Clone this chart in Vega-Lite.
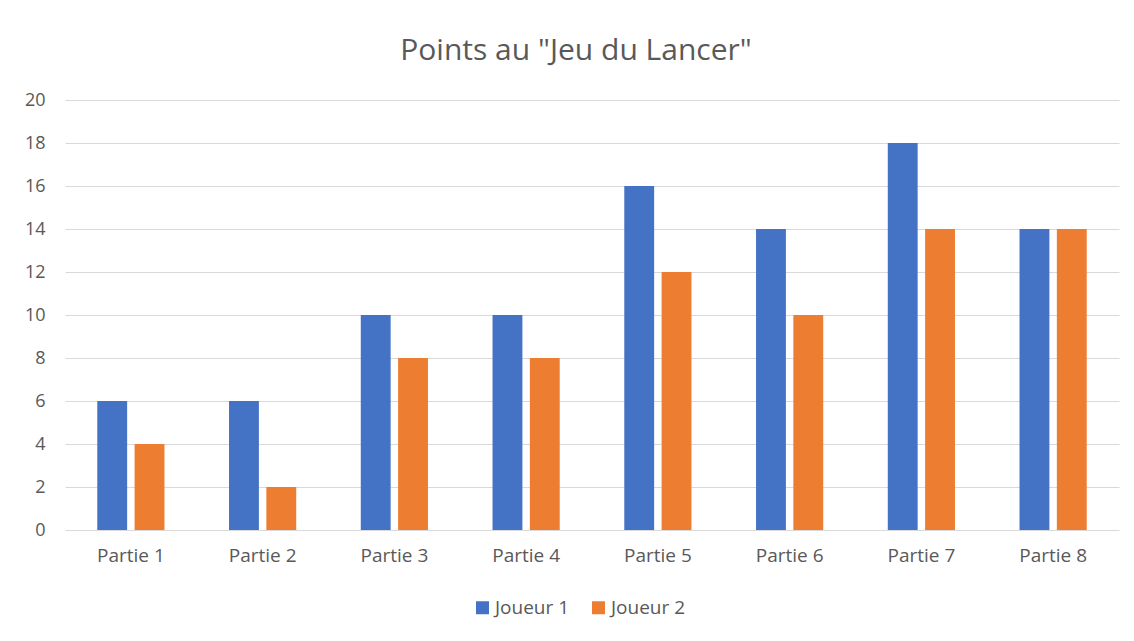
{
  "$schema": "https://vega.github.io/schema/vega-lite/v6.json",
  "autosize": "none",
  "width": 1054,
  "height": 430,
  "padding": {"left": 65, "top": 100, "right": 15, "bottom": 111},
  "background": "white",
  "title": {
    "text": "Points au \"Jeu du Lancer\"",
    "font": "Open Sans",
    "fontSize": 30,
    "fontWeight": "normal",
    "color": "#595959",
    "anchor": "middle",
    "dx": -16,
    "offset": 25
  },
  "data": {
    "values": [
      {"partie": "Partie 1", "joueur": "Joueur 1", "points": 6},
      {"partie": "Partie 1", "joueur": "Joueur 2", "points": 4},
      {"partie": "Partie 2", "joueur": "Joueur 1", "points": 6},
      {"partie": "Partie 2", "joueur": "Joueur 2", "points": 2},
      {"partie": "Partie 3", "joueur": "Joueur 1", "points": 10},
      {"partie": "Partie 3", "joueur": "Joueur 2", "points": 8},
      {"partie": "Partie 4", "joueur": "Joueur 1", "points": 10},
      {"partie": "Partie 4", "joueur": "Joueur 2", "points": 8},
      {"partie": "Partie 5", "joueur": "Joueur 1", "points": 16},
      {"partie": "Partie 5", "joueur": "Joueur 2", "points": 12},
      {"partie": "Partie 6", "joueur": "Joueur 1", "points": 14},
      {"partie": "Partie 6", "joueur": "Joueur 2", "points": 10},
      {"partie": "Partie 7", "joueur": "Joueur 1", "points": 18},
      {"partie": "Partie 7", "joueur": "Joueur 2", "points": 14},
      {"partie": "Partie 8", "joueur": "Joueur 1", "points": 14},
      {"partie": "Partie 8", "joueur": "Joueur 2", "points": 14}
    ]
  },
  "mark": {"type": "bar"},
  "encoding": {
    "x": {
      "field": "partie",
      "type": "nominal",
      "title": null,
      "scale": {"paddingInner": 0.49, "paddingOuter": 0.245},
      "axis": {
        "labelAngle": 0,
        "domain": false,
        "ticks": false,
        "labelPadding": 16,
        "labelFont": "Open Sans",
        "labelFontSize": 19,
        "labelColor": "#595959"
      }
    },
    "xOffset": {
      "field": "joueur",
      "type": "nominal",
      "scale": {"paddingInner": 0.2}
    },
    "y": {
      "field": "points",
      "type": "quantitative",
      "title": null,
      "scale": {"domain": [0, 20]},
      "axis": {
        "values": [0, 2, 4, 6, 8, 10, 12, 14, 16, 18, 20],
        "domain": false,
        "ticks": false,
        "grid": true,
        "gridColor": "#d9d9d9",
        "gridWidth": 1,
        "labelPadding": 20,
        "labelFont": "Open Sans",
        "labelFontSize": 18,
        "labelColor": "#595959"
      }
    },
    "color": {
      "field": "joueur",
      "type": "nominal",
      "title": null,
      "scale": {"domain": ["Joueur 1", "Joueur 2"], "range": ["#4472C4", "#ED7D31"]},
      "legend": {
        "orient": "none",
        "legendX": 408,
        "legendY": 498,
        "direction": "horizontal",
        "symbolType": "square",
        "symbolSize": 169,
        "symbolStrokeWidth": 0,
        "labelFont": "Open Sans",
        "labelFontSize": 19,
        "labelColor": "#595959",
        "columnPadding": 19,
        "labelOffset": 3
      }
    }
  },
  "config": {
    "view": {"stroke": null}
  }
}
